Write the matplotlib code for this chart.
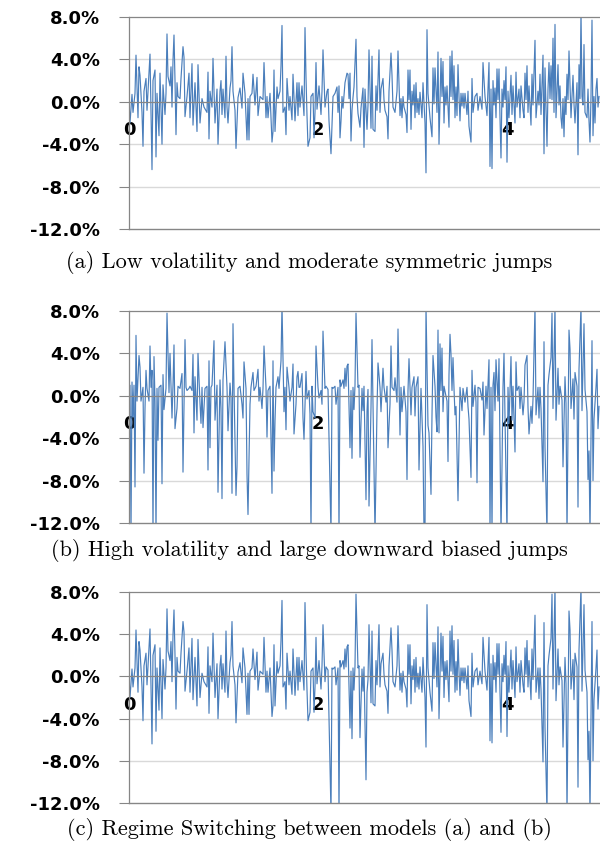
import numpy as np
import matplotlib
matplotlib.use("Agg")
import matplotlib.pyplot as plt

# observation index (one step per plotted column) -> x-axis unit
STEPS_PER_UNIT = 94.5

# ---- (a) low volatility, symmetric jumps: returns in %
a_step = [
    0, 1, 3, 4, 6, 7, 9, 10, 11, 13,
    14, 15, 17, 18, 21, 22, 23, 24, 26, 27,
    28, 30, 31, 33, 34, 36, 37, 38, 39, 41,
    42, 43, 44, 45, 46, 47, 48, 49, 51, 52,
    54, 55, 56, 58, 60, 61, 63, 64, 66, 68,
    69, 71, 73, 75, 78, 79, 80, 81, 83, 84,
    86, 88, 89, 91, 92, 93, 94, 96, 97, 98,
    99, 101, 102, 103, 104, 106, 107, 109, 111, 113,
    114, 116, 118, 119, 120, 121, 123, 124, 126, 128,
    129, 131, 134, 135, 137, 138, 139, 141, 143, 144,
    145, 146, 148, 149, 151, 152, 153, 154, 156, 157,
    158, 160, 161, 163, 164, 166, 168, 169, 170, 171,
    173, 175, 176, 177, 178, 179, 181, 182, 184, 185,
    186, 187, 188, 190, 192, 193, 194, 196, 198, 199,
    200, 202, 203, 204, 206, 208, 209, 210, 211, 212,
    213, 214, 216, 218, 219, 220, 221, 222, 223, 224,
    225, 227, 228, 229, 231, 232, 234, 235, 236, 238,
    239, 240, 242, 243, 244, 246, 247, 248, 250, 251,
    252, 254, 255, 256, 258, 259, 260, 262, 263, 264,
    266, 268, 269, 271, 272, 273, 274, 275, 277, 278,
    279, 280, 281, 282, 283, 284, 285, 286, 287, 288,
    289, 290, 291, 293, 294, 296, 297, 298, 299, 301,
    303, 304, 305, 306, 308, 309, 310, 312, 313, 314,
    315, 316, 317, 318, 320, 321, 322, 323, 324, 325,
    326, 327, 328, 329, 330, 331, 332, 333, 334, 335,
    336, 338, 339, 340, 342, 343, 344, 346, 348, 349,
    351, 353, 354, 356, 358, 360, 361, 362, 363, 364,
    365, 366, 367, 368, 369, 370, 371, 372, 373, 374,
    375, 376, 377, 378, 379, 380, 382, 383, 384, 386,
    387, 388, 390, 391, 392, 394, 395, 396, 397, 398,
    399, 400, 402, 403, 404, 406, 407, 409, 410, 411,
    412, 414, 415, 416, 418, 419, 420, 421, 422, 423,
    424, 425, 426, 427, 429, 430, 431, 432, 433, 434,
    435, 436, 437, 438, 439, 440, 441, 442, 444, 445,
    446, 448, 449, 450, 451, 452, 453, 454, 455, 456,
    458, 459, 460, 461, 462, 463, 464, 465, 466, 467,
    468, 469, 470,
]
a_ret = [
    0.0, -2.0, 0.7, -1.0, 0.8, 4.4, -1.5, 3.3, 2.5, -1.0,
    -4.2, 1.0, 2.2, -0.8, 4.5, -1.0, -6.4, 2.0, 3.0, -5.2,
    0.8, -3.2, 2.7, -4.0, 1.6, -1.2, 0.8, 6.4, 2.4, 1.5,
    3.3, -0.5, 3.9, 6.3, 2.0, -3.1, 1.8, 0.5, 0.3, 2.2,
    5.2, 4.2, -1.4, 0.5, 2.7, -1.5, 3.6, -2.2, 1.8, -2.8,
    3.5, -2.0, 0.3, -0.5, -1.0, 2.8, -3.5, 1.0, -0.5, 4.1,
    -2.0, 1.2, -4.0, 1.0, 2.0, -1.2, 1.2, -1.5, 4.3, -0.5,
    -2.0, 1.3, 2.0, 5.2, 1.0, -0.8, -4.4, 0.4, 1.3, -0.6,
    2.7, 0.8, -3.6, 0.3, -3.6, 0.5, 0.8, 2.6, -0.3, 2.3,
    -1.3, 0.5, 0.2, 3.7, -1.5, 0.5, -1.5, 0.8, -3.8, -2.8,
    3.0, -2.8, 1.4, 0.3, 1.0, 3.4, 7.2, -1.0, -0.5, -3.1,
    2.2, -0.8, 0.5, -1.7, 2.6, -1.8, 1.8, -1.3, 1.8, -0.5,
    1.5, -1.3, 7.0, 2.3, -1.3, -4.2, -3.4, 0.5, 0.8, -3.4,
    -1.0, 3.7, -0.7, 1.5, -1.2, 1.0, 4.9, -0.5, 1.0, 1.2,
    -1.8, -4.9, -2.2, 0.5, 0.8, 1.4, -1.0, 1.5, -3.4, -1.8,
    0.5, -0.6, 1.8, 2.7, 2.6, 0.3, 2.7, -3.7, -0.8, 0.4,
    1.4, 5.9, 0.5, -1.1, -2.4, -0.6, 1.3, -4.3, 1.2, -2.6,
    -0.3, 4.9, -2.5, 4.3, -2.6, -2.8, 1.5, -0.8, 4.9, -1.0,
    1.2, 2.2, 0.2, -0.8, -1.4, -3.5, 1.0, 4.6, 2.5, -0.5,
    -1.0, 1.0, 4.8, -1.3, 0.3, -1.5, 0.5, -0.5, -1.2, -2.9,
    3.0, 0.2, 3.0, -2.6, 1.0, -0.3, 1.6, -1.5, 1.8, -1.0,
    0.3, -1.2, 0.9, -1.5, 1.8, -2.0, -6.7, 6.8, 0.8, -1.5,
    -3.3, 3.2, -0.2, 3.2, -1.0, 4.7, -4.0, 4.1, 0.5, 3.8,
    -2.0, 1.4, -0.3, 1.5, -2.4, 4.3, 0.5, 4.8, 0.2, 3.4,
    -1.5, 1.4, -1.3, 3.5, 0.5, -1.8, 0.8, -0.4, 0.8, -0.6,
    0.8, -1.2, 1.0, -2.3, -3.8, 2.2, -1.0, 0.5, 0.8, -0.8,
    0.5, -0.7, 3.7, 0.5, -1.3, 3.7, -6.1, 1.2, -6.3, 2.0,
    -0.3, 1.3, -1.5, 3.1, 0.2, 3.1, -1.5, -5.3, 1.2, -0.5,
    2.0, 0.2, 3.3, -5.7, 1.0, -1.5, 2.5, -1.2, 1.5, -2.0,
    2.8, -0.5, 1.2, -1.5, 1.5, -0.8, -1.5, 2.7, 0.2, 3.4,
    -1.0, 1.5, -2.2, 2.6, -0.3, 5.8, -1.5, 1.0, -0.3, 2.6,
    -1.2, 4.4, -4.9, 3.2, -4.2, 1.2, 3.7, 0.3, 3.4, 0.2,
    6.0, -1.0, 7.3, -1.5, 3.5, -0.3, 1.5, -1.5, -2.5, 0.3,
    -3.3, 0.5, -1.2, 2.6, 0.2, 4.8, 1.5, -1.5, 2.5, -0.2,
    -2.0, 1.8, -5.0, 3.5, 0.3, 8.5, 0.5, -0.3, 5.4, -1.0,
    -1.5, 1.2, -1.8, -3.8, 0.5, 7.7, -3.2, 0.5, -2.0, 1.2,
    2.2, -0.5, 0.5,
]

# ---- (b) high volatility, large downward-biased jumps: returns in %
b_step = [
    0, 1, 2, 3, 4, 5, 6, 7, 8, 10,
    11, 12, 14, 15, 16, 17, 18, 20, 21, 22,
    23, 24, 25, 26, 27, 28, 29, 30, 32, 33,
    34, 35, 37, 38, 40, 41, 43, 44, 45, 46,
    48, 49, 51, 53, 54, 56, 57, 58, 60, 61,
    63, 64, 65, 66, 68, 69, 71, 72, 73, 74,
    76, 78, 79, 80, 81, 82, 83, 85, 86, 88,
    89, 91, 92, 93, 94, 96, 98, 99, 101, 102,
    103, 104, 105, 107, 108, 109, 111, 113, 114, 115,
    117, 118, 119, 121, 122, 124, 125, 127, 129, 130,
    131, 133, 134, 135, 137, 138, 139, 141, 143, 144,
    145, 146, 147, 149, 150, 152, 153, 155, 156, 157,
    158, 160, 161, 163, 164, 165, 167, 168, 169, 170,
    171, 173, 174, 175, 177, 178, 180, 181, 182, 183,
    184, 186, 187, 189, 190, 192, 193, 194, 196, 197,
    199, 200, 202, 203, 204, 206, 207, 209, 210, 211,
    212, 214, 215, 216, 217, 218, 219, 220, 221, 222,
    223, 224, 225, 226, 227, 229, 230, 231, 233, 234,
    235, 237, 238, 239, 240, 242, 243, 244, 246, 248,
    249, 251, 252, 254, 255, 257, 258, 259, 261, 262,
    263, 265, 266, 268, 269, 271, 272, 273, 275, 277,
    278, 279, 280, 282, 283, 285, 286, 287, 289, 290,
    292, 293, 294, 295, 296, 297, 299, 300, 302, 303,
    304, 306, 307, 308, 309, 310, 311, 312, 313, 314,
    315, 318, 319, 320, 321, 322, 323, 324, 325, 326,
    327, 329, 331, 333, 334, 336, 338, 339, 340, 342,
    343, 344, 346, 347, 348, 349, 351, 353, 354, 355,
    357, 358, 360, 361, 362, 363, 364, 365, 366, 367,
    369, 370, 372, 373, 374, 375, 376, 378, 379, 380,
    382, 383, 384, 386, 387, 388, 390, 391, 392, 394,
    395, 396, 398, 399, 400, 402, 403, 404, 406, 407,
    409, 410, 411, 412, 414, 415, 416, 418, 419, 420,
    422, 423, 424, 426, 427, 429, 430, 431, 433, 434,
    436, 437, 438, 440, 441, 442, 444, 445, 446, 448,
    449, 450, 452, 453, 455, 456, 458, 459, 460, 461,
    463, 464, 465, 467, 468, 469, 470,
]
b_ret = [
    -13.0, 1.0, -13.0, 1.3, -2.0, 1.0, -8.6, 5.7, -0.5, 3.8,
    2.7, -0.5, 0.8, -7.3, -1.2, 2.4, 0.7, -0.5, 4.7, 0.8,
    2.4, -13.0, 3.7, -0.5, -13.0, 0.7, -4.2, 0.8, 1.0, -8.3,
    2.0, -1.3, 0.7, 7.8, 0.3, 4.0, -2.1, 1.0, 4.8, -3.1,
    -1.2, 0.9, 0.7, 2.1, -7.2, 5.3, 0.8, 0.5, 0.7, 0.9,
    0.5, 3.9, -3.5, 1.8, -2.3, 4.0, -0.7, -2.6, 0.8, -3.0,
    0.7, 0.9, -7.0, 3.3, -4.9, 0.8, 1.0, 5.2, -2.3, 1.0,
    -9.1, 1.5, -1.2, -9.7, 1.5, 5.1, 0.8, -3.3, 1.2, -0.2,
    -9.2, 6.8, 0.8, -9.4, -6.7, 0.7, 0.9, -0.8, -2.1, 3.2,
    0.7, -7.4, -11.2, -0.8, 0.8, 2.2, 0.5, 0.9, 2.5, -0.5,
    0.8, -1.2, 0.7, 4.7, 0.8, -3.9, 0.5, 0.9, -9.2, 3.3,
    -7.1, -2.4, 0.8, 1.8, 0.7, 3.3, 8.5, -1.5, 0.8, -3.2,
    2.7, 0.8, -0.5, 0.8, 3.0, -3.6, -0.8, 1.8, 2.3, 0.8,
    0.8, 2.1, -2.1, -4.1, 2.3, -0.3, 0.5, -1.7, -13.0, 0.9,
    -1.5, -2.1, 4.7, 0.8, -0.2, 0.5, -0.8, 6.1, 0.7, 0.9,
    0.6, -4.1, -13.0, 0.8, 0.7, 0.9, -0.8, 0.8, -13.0, 1.5,
    0.9, 1.5, 0.7, 2.6, 0.9, 2.8, 3.0, -1.1, -4.9, 0.5,
    -5.9, 0.8, -1.3, 1.0, 7.8, 0.8, 1.0, -5.8, 0.7, -1.4,
    0.9, -9.8, -1.5, 0.6, -10.4, -1.1, 5.3, -0.6, -13.0, -1.3,
    3.1, 0.8, -1.5, 2.6, 0.8, -0.6, 0.9, -4.9, -0.8, 4.7,
    0.8, 0.5, 1.7, -0.6, 6.3, -3.7, 0.8, -1.5, 0.9, -1.5,
    -7.9, 0.5, 3.5, -1.8, 0.8, 1.8, -1.9, 0.8, 1.8, -7.0,
    0.7, -2.0, -4.8, -13.0, -13.0, 8.5, -2.8, -3.5, -9.3, -1.8,
    3.8, 0.9, -2.0, -3.4, 6.2, -3.5, 4.9, 0.5, 4.5, -1.5,
    0.9, -0.5, -6.2, 2.0, 5.8, 3.9, 0.5, 3.6, 0.7, -1.8,
    -1.0, -9.9, 0.8, -1.4, 0.7, -0.6, 0.8, -1.0, -2.2, -7.7,
    2.4, -1.0, 1.0, -0.6, -8.2, 0.8, 0.7, -0.4, 1.3, -3.7,
    0.9, -1.2, 3.4, -13.0, 0.8, -13.0, 1.0, 2.2, -1.4, 3.4,
    -0.5, 3.5, -13.0, -6.7, 0.8, 4.0, -2.0, -13.0, 0.8, -2.6,
    3.7, -2.3, 0.9, -5.3, 3.2, 0.5, 0.9, -1.2, 0.8, -1.8,
    -0.6, 2.9, 3.8, -1.1, -3.6, -1.0, -2.6, -0.3, 8.5, -1.8,
    0.8, -2.1, 0.8, -1.2, -8.1, 5.1, -4.8, -13.0, 1.0, 2.0,
    3.6, 7.8, -1.2, 8.5, -2.3, 2.6, -0.8, 0.9, -0.4, -6.7,
    1.8, -0.7, -13.0, 6.2, 4.4, -1.2, 1.6, -2.2, 2.2, 0.9,
    -10.5, 2.5, 8.5, -1.4, 6.8, 0.6, -1.5, -7.9, -5.2, -13.0,
    5.2, -8.0, -2.2, 0.8, 2.5, -3.1, -1.0,
]

# ---- (c) regime switching: steps [start, end) spent in regime (b)
regime_b_windows = [(197, 239), (408, 471)]

y_ticks = [8, 4, 0, -4, -8, -12]
y_labels = ["8.0%", "4.0%", "0.0%", "-4.0%", "-8.0%", "-12.0%"]
x_ticks = [0, 2, 4]
x_labels = ["0", "2", "4"]
captions = [
    "(a) Low volatility and moderate symmetric jumps",
    "(b) High volatility and large downward biased jumps",
    "(c) Regime Switching between models (a) and (b)",
]

assert len(a_step) == len(a_ret)
assert len(b_step) == len(b_ret)

# build regime switching series from the two model paths
a_s, a_r = np.asarray(a_step), np.asarray(a_ret)
b_s, b_r = np.asarray(b_step), np.asarray(b_ret)
in_a = np.zeros(len(a_s), bool)
in_b = np.zeros(len(b_s), bool)
for lo, hi in regime_b_windows:
    in_a |= (a_s >= lo) & (a_s < hi)
    in_b |= (b_s >= lo) & (b_s < hi)
c_s = np.concatenate([a_s[~in_a], b_s[in_b]])
c_r = np.concatenate([a_r[~in_a], b_r[in_b]])
order = np.argsort(c_s, kind="stable")
c_s, c_r = c_s[order], c_r[order]

series = [(a_s, a_r), (b_s, b_r), (c_s, c_r)]

W, H = 600, 846
fig = plt.figure(figsize=(W / 100, H / 100), dpi=100)

# (top px, bottom px, caption centre px)
layout = [(17, 229, 262), (311, 523, 551), (592, 803, 829)]

LINE = "#4a7ebb"
FRAME = "#868686"
GRID = "#d9d9d9"
left_px = 129

for (steps, rets), (top, bot, cap_y), cap in zip(series, layout, captions):
    ax = fig.add_axes([left_px / W, 1 - bot / H, (W - left_px) / W, (bot - top) / H])
    for y in (4, -4, -8):
        ax.axhline(y, color=GRID, lw=1.0, zorder=0)
    ax.plot(steps / STEPS_PER_UNIT, rets, color=LINE, lw=0.85, zorder=2)
    ax.set_xlim(0, (W - left_px) / STEPS_PER_UNIT)
    ax.set_ylim(-12, 8)
    ax.set_yticks(y_ticks)
    ax.set_yticklabels(y_labels)
    ax.set_xticks(x_ticks)
    ax.set_xticklabels(x_labels)
    ax.spines["bottom"].set_position(("data", 0))
    ax.spines["right"].set_visible(False)
    for s in ("top", "left", "bottom"):
        ax.spines[s].set_color(FRAME)
        ax.spines[s].set_linewidth(0.9)
        ax.spines[s].set_zorder(3)
    ax.axhline(-12, color=FRAME, lw=1.0, clip_on=False, zorder=3)
    ax.tick_params(axis="y", length=7, width=0.8, color=FRAME, pad=14,
                   labelsize=13, labelcolor="black")
    ax.tick_params(axis="x", length=0, pad=14, labelsize=13, labelcolor="black")
    for lab in ax.get_yticklabels() + ax.get_xticklabels():
        lab.set_fontweight("bold")
        lab.set_fontfamily("DejaVu Sans")
    ax.set_facecolor("none")
    fig.text(309 / W, 1 - cap_y / H, cap, fontfamily="cmr10", fontsize=16,
             ha="center", va="center")

fig.savefig("out.png", dpi=100)
